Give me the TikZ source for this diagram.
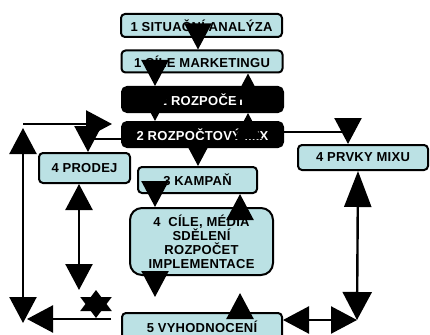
\documentclass[tikz,border=0pt]{standalone}
\usepackage{fontspec}
\setmainfont{Liberation Sans}
\newfontfamily\labelfont{Liberation Sans}[LetterSpace=2]
\usetikzlibrary{arrows.meta}
\definecolor{boxcyan}{RGB}{187,225,228}
\begin{document}
\begin{tikzpicture}[x=1pt,y=-1pt,
  >={Triangle[width=27pt,length=26pt]},
  stage/.style={draw=black, line width=2pt, fill=boxcyan, rounded corners=4pt,
    inner sep=0pt, text=black, align=center,
    font=\labelfont\bfseries\fontsize{13}{14}\selectfont},
  budget/.style={stage, fill=black, text=white, rounded corners=5pt},
  conn/.style={draw=black, line width=2.4pt}
]
\useasboundingbox (0,0) rectangle (430,334);
\fill[white] (0,0) rectangle (430,334);

% stages of the plan
\node[stage, minimum width=161pt, minimum height=23pt] (s1) at (201.5,25.5) {1 SITUAČNÍ ANALÝZA};
\node[stage, minimum width=161pt, minimum height=22pt] (s2) at (202,61.5) {1 CÍLE MARKETINGU};
\node[budget, minimum width=161pt, minimum height=25pt] (r1) at (202.5,99.5) {2 ROZPOČET};
\node[budget, minimum width=161pt, minimum height=25pt] (r2) at (202.5,134.5) {2 ROZPOČTOVÝ MIX};
\node[stage, minimum width=91pt, minimum height=30pt] (prodej) at (84.5,168) {4 PRODEJ};
\node[stage, minimum width=119pt, minimum height=26pt] (kampan) at (197.5,180) {3 KAMPAŇ};
\node[stage, rounded corners=12pt, minimum width=143pt, minimum height=67pt] (cile) at (201.5,241.5)
  {4~ CÍLE, MÉDIA\\SDĚLENÍ\\ROZPOČET\\IMPLEMENTACE};
\node[stage, minimum width=130pt, minimum height=25pt] (prvky) at (363,157.5) {4 PRVKY MIXU};
\node[stage, minimum width=160pt, minimum height=28pt] (eval) at (202,327) {5 VYHODNOCENÍ};

% free ends of the feedback lines
\coordinate (pA) at (155,297);
\coordinate (pB) at (240,293);
\coordinate (pC) at (357,320);
\coordinate (pE) at (27,319);
\coordinate (pF) at (23,323);
\coordinate (pG) at (23,128);
\coordinate (pH) at (23,124);
\coordinate (pI) at (79,290);
\coordinate (pJ) at (96,318);
\coordinate (pK) at (96,290);

% main flow
\draw[conn,->] ([xshift=-3.5pt]s1.south) -- ([xshift=-4pt]s2.north);
\draw[conn,->] ([xshift=-47pt]s2.south) -- ([xshift=-47.5pt]r1.north);
\draw[conn,->] ([xshift=45.5pt]r1.north) -- ([xshift=46pt]s2.south);
\draw[conn,->] ([xshift=-47.5pt]r1.south) -- ([xshift=-47.5pt]r2.north);
\draw[conn,->] ([xshift=45.5pt]r2.north) -- ([xshift=45.5pt]r1.south);
\draw[conn,->] ([xshift=-4.5pt]r2.south) -- ([xshift=0.5pt]kampan.north);
\draw[conn,->] ([xshift=-42.5pt]kampan.south) -- ([xshift=-46.5pt]cile.north);
\draw[conn,->] ([xshift=38.5pt]cile.north) -- ([xshift=42.5pt]kampan.south);
\draw[conn,->] ([xshift=-46.5pt]cile.south) -- (pA);
\draw[conn,->] ([xshift=38pt]eval.north) -- (pB);

% branches of the budget mix
\draw[conn,->] ([yshift=-4.5pt]r2.west) -| ([xshift=3.5pt]prodej.north);
\draw[conn,->] ([yshift=2.5pt]r2.east) -| ([xshift=-15pt]prvky.north);

% right feedback loop
\draw[conn,{Triangle[width=27pt,length=36pt]}-{Triangle[width=29pt,length=28pt]}]
  ([xshift=-5pt]prvky.south) -- (pC);
\draw[conn,<->] ([yshift=7pt]eval.east) -- (pC);

% left feedback loop
\draw[conn,->] ([xshift=-10pt,yshift=8pt]eval.west) -- (pE);
\draw[conn,<->] (pF) -- (pG);
\draw[conn,->] (pH) -- ([xshift=-9pt,yshift=10.5pt]r2.west);
\draw[conn,<->] ([xshift=-5.5pt]prodej.south) -- (pI);
\draw[conn,{Triangle[width=31pt,length=21pt]}-{Triangle[width=31pt,length=21pt]}] (pJ) -- (pK);
\end{tikzpicture}
\end{document}
